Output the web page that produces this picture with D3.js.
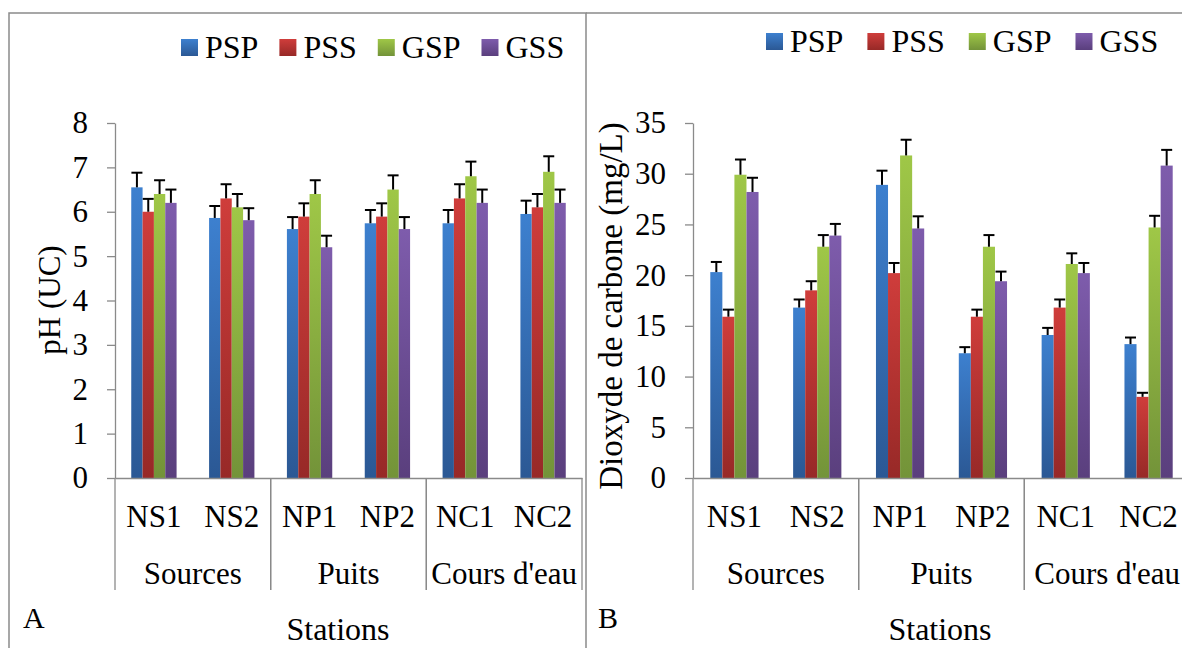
<!DOCTYPE html>
<html>
<head>
  <meta charset="utf-8">
  <style>
    body { margin: 0; background: #fff; }
    text { font-family: "Liberation Serif", "Times New Roman", serif; fill: #000; }
    .axis path, .axis line { stroke: #8a8a8a; stroke-width: 1.3; }
    .err { stroke: #000; stroke-width: 2; }
  </style>
</head>
<body>
  <script src="https://d3js.org/d3.v7.min.js"></script>
  <script>
    // data
    var stations = ["NS1", "NS2", "NP1", "NP2", "NC1", "NC2"];
    var groups = [
      {name: "Sources", from: "NS1", to: "NS2"},
      {name: "Puits", from: "NP1", to: "NP2"},
      {name: "Cours d'eau", from: "NC1", to: "NC2"}
    ];
    var series = ["PSP", "PSS", "GSP", "GSS"];

    var phPSP = [6.55, 5.86, 5.61, 5.74, 5.74, 5.95];
    var phPSS = [6.0, 6.3, 5.89, 5.89, 6.3, 6.1];
    var phGSP = [6.4, 6.1, 6.4, 6.5, 6.8, 6.9];
    var phGSS = [6.2, 5.81, 5.2, 5.61, 6.2, 6.2];
    var phErrPSP = [0.33, 0.27, 0.27, 0.3, 0.3, 0.3];
    var phErrPSS = [0.29, 0.32, 0.3, 0.3, 0.32, 0.3];
    var phErrGSP = [0.31, 0.3, 0.31, 0.32, 0.33, 0.35];
    var phErrGSS = [0.3, 0.27, 0.26, 0.27, 0.3, 0.3];
    var phTicks = [0, 1, 2, 3, 4, 5, 6, 7, 8];

    var co2PSP = [20.3, 16.8, 28.9, 12.3, 14.1, 13.2];
    var co2PSS = [15.9, 18.5, 20.2, 15.9, 16.8, 8.0];
    var co2GSP = [29.9, 22.8, 31.8, 22.8, 21.1, 24.7];
    var co2GSS = [28.2, 23.9, 24.6, 19.4, 20.2, 30.8];
    var co2ErrPSP = [1.0, 0.8, 1.4, 0.6, 0.7, 0.65];
    var co2ErrPSS = [0.7, 0.9, 1.0, 0.7, 0.8, 0.4];
    var co2ErrGSP = [1.5, 1.15, 1.55, 1.15, 1.05, 1.15];
    var co2ErrGSS = [1.4, 1.15, 1.2, 0.95, 1.0, 1.55];
    var co2Ticks = [0, 5, 10, 15, 20, 25, 30, 35];

    var colorTop = ["#3d80cf", "#cf3d3b", "#9fc747", "#7e5cac"];
    var colorBot = ["#2b5894", "#972927", "#739339", "#5a3f7d"];

    var W = 1182, H = 648;

    var svg = d3.select("body").append("svg")
        .attr("width", W)
        .attr("height", H);

    var defs = svg.append("defs");
    series.forEach(function(s, i) {
      var lg = defs.append("linearGradient")
          .attr("id", "grad" + i)
          .attr("x1", 0).attr("y1", 0).attr("x2", 0).attr("y2", 1);
      lg.append("stop").attr("offset", "0%").attr("stop-color", colorTop[i]);
      lg.append("stop").attr("offset", "100%").attr("stop-color", colorBot[i]);
    });

    // panel frames
    svg.append("rect")
        .attr("x", 9).attr("y", 13).attr("width", 577).attr("height", 660)
        .attr("fill", "none").attr("stroke", "#8a8a8a").attr("stroke-width", 1.5);
    svg.append("line")
        .attr("x1", 586).attr("x2", W + 5).attr("y1", 13).attr("y2", 13)
        .attr("stroke", "#8a8a8a").attr("stroke-width", 1.5);

    function label(parent, x, y, str, size, anchor) {
      return parent.append("text")
          .attr("x", x).attr("y", y)
          .attr("text-anchor", anchor || "middle")
          .style("font-size", size + "px")
          .text(str);
    }

    function panel(cfg) {
      var g = svg.append("g");
      var x = d3.scaleBand().domain(stations).range([cfg.left, cfg.right]);
      var y = d3.scaleLinear().domain([0, cfg.ticks[cfg.ticks.length - 1]]).range([478, 123]);
      var bw = x.bandwidth();
      var barW = bw * 0.1456;
      var off = (bw - 4 * barW) / 2;

      // bars + error bars
      series.forEach(function(s, i) {
        var rows = stations.map(function(st, k) {
          return {st: st, v: cfg.means[i][k], e: cfg.errs[i][k]};
        });
        var bx = function(d) { return x(d.st) + off + i * barW; };
        g.selectAll(".bar" + i)
          .data(rows)
          .enter().append("rect")
            .attr("x", bx)
            .attr("y", function(d) { return y(d.v); })
            .attr("width", barW)
            .attr("height", function(d) { return y(0) - y(d.v); })
            .attr("fill", "url(#grad" + i + ")");
        g.selectAll(".ev" + i)
          .data(rows)
          .enter().append("line")
            .attr("class", "err")
            .attr("x1", function(d) { return bx(d) + barW / 2; })
            .attr("x2", function(d) { return bx(d) + barW / 2; })
            .attr("y1", function(d) { return y(d.v); })
            .attr("y2", function(d) { return y(d.v + d.e); });
        g.selectAll(".ec" + i)
          .data(rows)
          .enter().append("line")
            .attr("class", "err")
            .attr("x1", function(d) { return bx(d) + barW / 2 - 5.5; })
            .attr("x2", function(d) { return bx(d) + barW / 2 + 5.5; })
            .attr("y1", function(d) { return y(d.v + d.e); })
            .attr("y2", function(d) { return y(d.v + d.e); });
      });

      // y axis
      var ya = g.append("g")
          .attr("class", "axis")
          .attr("transform", "translate(" + cfg.left + ",0)")
          .call(d3.axisLeft(y).tickValues(cfg.ticks).tickSize(8).tickSizeOuter(0).tickPadding(19));
      ya.attr("font-size", null).attr("font-family", null);
      ya.selectAll(".tick text")
          .style("font-size", "31px");

      // x axis line
      g.append("g")
          .attr("class", "axis")
          .attr("transform", "translate(0," + y(0) + ")")
          .call(d3.axisBottom(x).tickSize(0).tickSizeOuter(0).tickFormat(""));

      stations.forEach(function(st) {
        label(g, x(st) + bw / 2, 527, st, 31);
      });

      groups.forEach(function(gr) {
        var a = x(gr.from), b = x(gr.to) + bw;
        g.append("line")
            .attr("x1", a).attr("x2", a).attr("y1", y(0)).attr("y2", 590)
            .attr("stroke", "#8a8a8a").attr("stroke-width", 1.3);
        g.append("line")
            .attr("x1", b).attr("x2", b).attr("y1", y(0)).attr("y2", 590)
            .attr("stroke", "#8a8a8a").attr("stroke-width", 1.3);
        label(g, (a + b) / 2, 584, gr.name, 31);
      });

      // titles
      g.append("text")
          .attr("transform", "translate(" + cfg.titleX + "," + cfg.titleY + ") rotate(-90)")
          .attr("text-anchor", "middle")
          .style("font-size", cfg.titleSize + "px")
          .text(cfg.title);
      label(g, cfg.stationsX, 640, "Stations", 32);
      label(g, cfg.letterX, 628, cfg.letter, 30, "start");

      // legend
      var lx = cfg.legendX;
      series.forEach(function(s, i) {
        g.append("rect")
            .attr("x", lx).attr("y", cfg.legendY)
            .attr("width", 17).attr("height", 17)
            .attr("fill", "url(#grad" + i + ")");
        var t = label(g, lx + 24, cfg.legendY + 19, s, 32, "start");
        lx += 24 + t.node().getComputedTextLength() + cfg.legendGap;
      });
    }

    panel({
      left: 115, right: 582,
      means: [phPSP, phPSS, phGSP, phGSS],
      errs: [phErrPSP, phErrPSS, phErrGSP, phErrGSS],
      ticks: phTicks,
      title: "pH (UC)", titleX: 60, titleY: 300, titleSize: 31,
      stationsX: 338, letter: "A", letterX: 23,
      legendX: 181, legendY: 39, legendGap: 21
    });

    panel({
      left: 693, right: 1190,
      means: [co2PSP, co2PSS, co2GSP, co2GSS],
      errs: [co2ErrPSP, co2ErrPSS, co2ErrGSP, co2ErrGSS],
      ticks: co2Ticks,
      title: "Dioxyde de carbone (mg/L)", titleX: 622, titleY: 306, titleSize: 33,
      stationsX: 940, letter: "B", letterX: 598,
      legendX: 766, legendY: 33, legendGap: 24
    });
  </script>
</body>
</html>
